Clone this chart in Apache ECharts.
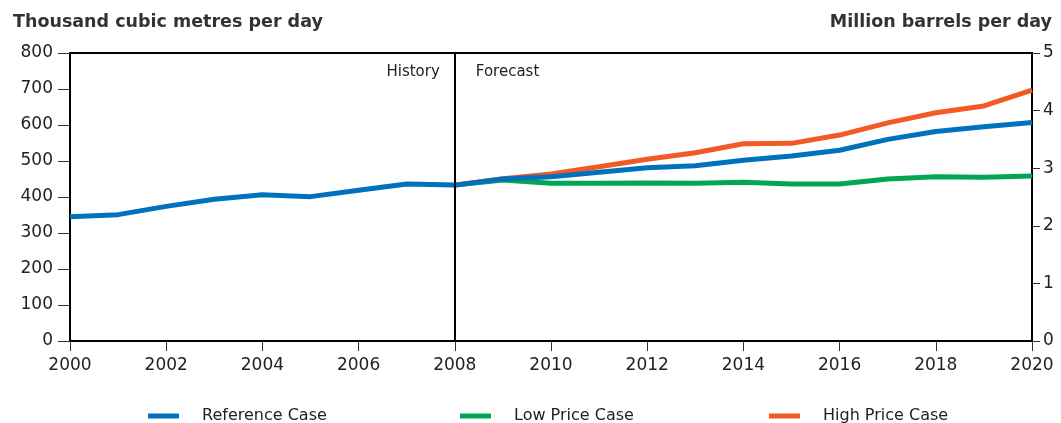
<!DOCTYPE html>
<html>
<head>
<meta charset="utf-8">
<script src="https://cdn.jsdelivr.net/npm/echarts@6/dist/echarts.min.js"></script>
<style>
  html, body { margin: 0; padding: 0; background: #fff; }
  #chart { width: 1061px; height: 423px; }
</style>
</head>
<body>
<div id="chart"></div>
<script>
const years = ['2000', '2001', '2002', '2003', '2004', '2005', '2006', '2007', '2008', '2009', '2010',
  '2011', '2012', '2013', '2014', '2015', '2016', '2017', '2018', '2019', '2020']
// thousand m3/d
const referenceCase = [345, 351, 374, 394, 406, 401, 419, 436, 433, 450, 456, 469, 481, 487, 502, 514, 530, 560, 582, 595, 607]
const lowPriceCase = [null, null, null, null, null, null, null, null, 433, 447, 438, 438, 439, 438, 441, 436, 436, 450, 456, 455, 458]
const highPriceCase = [null, null, null, null, null, null, null, null, 433, 451, 464, 484, 505, 523, 548, 549, 572, 606, 634, 653, 697]
const leftTicks = [0, 800, 100]
const rightTicks = [0, 5, 1]
const splitYear = '2008'

const font = 'DejaVu Sans'
const colors = { ref: '#0072BC', low: '#00A651', high: '#F15A24' }

const chart = echarts.init(document.getElementById('chart'))

const legendItem = (name, left) => ({
  data: [name],
  left: left,
  top: 403,
  itemWidth: 31,
  itemHeight: 5,
  icon: 'rect',
  textStyle: { fontFamily: font, fontSize: 16, color: '#222', padding: [0, 0, 0, 18] },
  selectedMode: false
})

const option = {
  animation: false,
  title: [
    { text: 'Thousand cubic metres per day', left: 8, top: 8,
      textStyle: { fontFamily: font, fontSize: 17.5, fontWeight: 'bold', color: '#333' } },
    { text: 'Million barrels per day', right: 4, top: 8,
      textStyle: { fontFamily: font, fontSize: 17.5, fontWeight: 'bold', color: '#333' } }
  ],
  legend: [
    legendItem('Reference Case', 143),
    legendItem('Low Price Case', 455),
    legendItem('High Price Case', 764)
  ],
  grid: {
    left: 70, right: 29, top: 53, bottom: 82,
    show: true, borderColor: '#000', borderWidth: 2
  },
  xAxis: {
    type: 'category',
    data: years,
    boundaryGap: false,
    axisLine: { lineStyle: { color: '#000', width: 2 } },
    axisTick: { interval: 1, length: 10, lineStyle: { color: '#333', width: 1 } },
    axisLabel: { interval: 1, margin: 16, fontFamily: font, fontSize: 17, color: '#222' },
    splitLine: { show: false }
  },
  yAxis: [
    {
      type: 'value', min: leftTicks[0], max: leftTicks[1], interval: leftTicks[2],
      axisLine: { show: true, lineStyle: { color: '#000', width: 2 } },
      axisTick: { show: true, length: 12, lineStyle: { color: '#333', width: 1 } },
      axisLabel: { margin: 17, fontFamily: font, fontSize: 17, color: '#222' },
      splitLine: { show: false }
    },
    {
      type: 'value', min: rightTicks[0], max: rightTicks[1], interval: rightTicks[2],
      position: 'right',
      axisLine: { show: true, lineStyle: { color: '#000', width: 2 } },
      axisTick: { show: true, length: 8, lineStyle: { color: '#333', width: 1 } },
      axisLabel: { margin: 11, fontFamily: font, fontSize: 17, color: '#222' },
      splitLine: { show: false }
    }
  ],
  series: [
    {
      name: 'Low Price Case', type: 'line', data: lowPriceCase,
      symbol: 'none', lineStyle: { width: 5, color: colors.low }, itemStyle: { color: colors.low }
    },
    {
      name: 'High Price Case', type: 'line', data: highPriceCase,
      symbol: 'none', lineStyle: { width: 5, color: colors.high }, itemStyle: { color: colors.high }
    },
    {
      name: 'Reference Case', type: 'line', data: referenceCase,
      symbol: 'none', lineStyle: { width: 5, color: colors.ref }, itemStyle: { color: colors.ref },
      markLine: {
        silent: true,
        symbol: 'none',
        label: { show: false },
        lineStyle: { color: '#000', width: 2, type: 'solid' },
        data: [{ xAxis: splitYear }]
      }
    }
  ]
}
chart.setOption(option)

// History / Forecast labels either side of the split line
const splitX = chart.convertToPixel({ xAxisIndex: 0 }, splitYear)
const topY = chart.convertToPixel({ yAxisIndex: 0 }, leftTicks[1])
chart.setOption({
  graphic: [
    { type: 'text', x: splitX - 15, y: topY + 19,
      style: { text: 'History', align: 'right', verticalAlign: 'middle', font: '15px "DejaVu Sans"', fill: '#222' } },
    { type: 'text', x: splitX + 21, y: topY + 19,
      style: { text: 'Forecast', align: 'left', verticalAlign: 'middle', font: '15px "DejaVu Sans"', fill: '#222' } }
  ]
})
</script>
</body>
</html>
